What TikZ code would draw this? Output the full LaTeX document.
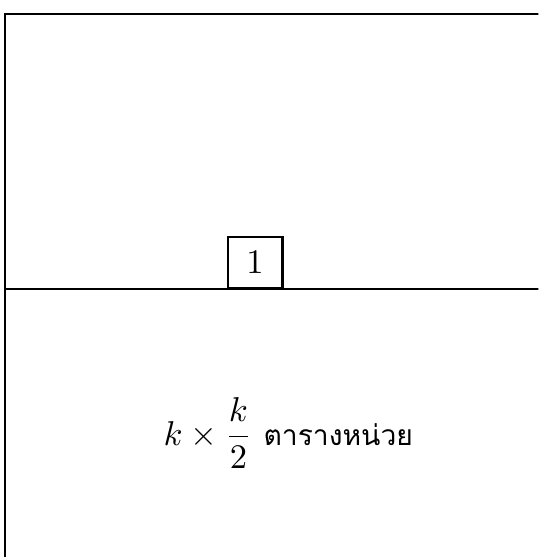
\documentclass[tikz,border=0pt]{standalone}
\usepackage{amsmath}
\usepackage{fontspec}
\newfontfamily\thaifont[Script=Thai,Scale=0.82]{Loma}
\usetikzlibrary{calc}

\begin{document}
\begin{tikzpicture}[semithick]

\clip (0,0) rectangle (5.49,-5.68);
\useasboundingbox (0,0) rectangle (5.49,-5.68);

\coordinate (A) at (0.05,-0.14);
\coordinate (B) at (6.2,-6.4);
\coordinate (M) at (0.05,-2.95);

\draw (A) rectangle (B);
\draw (M) -- (M -| B);

\node[draw, minimum width=0.56cm, minimum height=0.52cm, inner sep=0pt, anchor=south west] (one) at (2.31,-2.95) {$1$};

\node (area) at (2.94,-4.42) {$k\times\dfrac{k}{2}$ {\thaifont ตารางหน่วย}};

\end{tikzpicture}
\end{document}
